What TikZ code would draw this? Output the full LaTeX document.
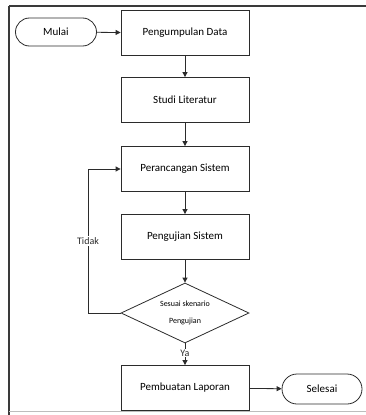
\documentclass[tikz,border=0pt]{standalone}
\usepackage{fontspec}
\setmainfont{Carlito}
\usetikzlibrary{arrows.meta,shapes.geometric,shapes.misc}
\definecolor{ink}{HTML}{2B2B2B}
\definecolor{frame}{HTML}{3A3A3A}
\definecolor{rule}{HTML}{BDBDBD}
\tikzset{
  proc/.style={draw=ink, line width=0.8pt, minimum width=128pt, minimum height=45pt, inner sep=0pt, font=\fontsize{11}{13}\selectfont},
  term/.style={rounded rectangle, draw=ink, line width=0.8pt, minimum width=81pt, minimum height=28pt, inner sep=0pt, font=\fontsize{11}{13}\selectfont},
  dec/.style={diamond, draw=ink, line width=0.8pt, minimum width=128pt, minimum height=60pt, aspect=2.13, inner sep=0pt, align=center, font=\fontsize{8}{17}\selectfont},
  flow/.style={draw=ink, line width=0.8pt, -{Triangle[length=5pt,width=5pt]}},
  lab/.style={text=ink, font=\fontsize{10}{12}\selectfont},
}

\begin{document}
\begin{tikzpicture}[x=1pt,y=-1pt]
  \useasboundingbox (0,0) rectangle (366,415);
  % border of the page
  \draw[frame, line width=1.8pt] (9,6) -- (9,415);
  \draw[frame, line width=1.8pt] (9,6) -- (366,6);
  \draw[rule, line width=1pt] (9,411) -- (366,411);

  \node[term] (mulai) at (56,32) {Mulai};
  \node[proc] (data) at (185,33) {Pengumpulan Data};
  \node[proc] (studi) at (185,100) {Studi Literatur};
  \node[proc] (rancang) at (185,169) {Perancangan Sistem};
  \node[proc] (uji) at (185,237) {Pengujian Sistem};
  \node[dec] (cek) at (185,313) {Sesuai skenario\\Pengujian};
  \node[proc] (lapor) at (185,388) {Pembuatan Laporan};
  \node[term, minimum width=80pt, minimum height=30pt] (selesai) at (322,389) {Selesai};
  \coordinate (balikA) at (88,313);
  \coordinate (balikB) at (88,169);

  \draw[flow] (mulai) -- (data);
  \draw[flow] (data) -- (studi);
  \draw[flow] (studi) -- (rancang);
  \draw[flow] (rancang) -- (uji);
  \draw[flow] (uji) -- (cek);
  \draw[flow] (cek) -- node[lab, pos=0.45, fill=white, inner sep=1pt] {Ya} (lapor);
  \draw[flow] (cek.west) -- (balikA) -- node[lab, pos=0.5, fill=white, inner sep=1pt] {Tidak} (balikB) -- (rancang.west);
  \draw[flow] (lapor) -- (selesai);
\end{tikzpicture}
\end{document}
